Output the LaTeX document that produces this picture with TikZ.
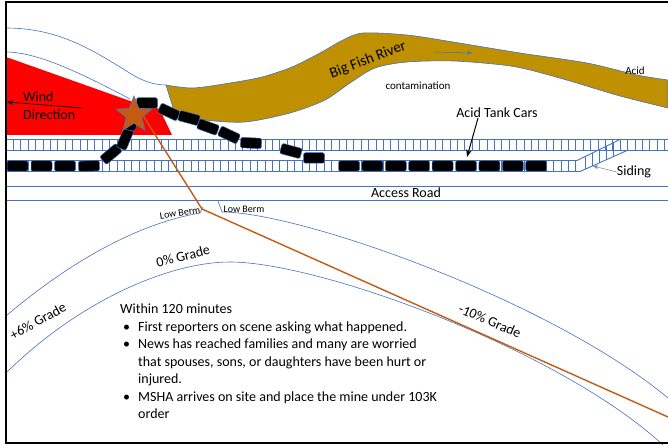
\documentclass[tikz,border=0pt]{standalone}
\usepackage{fontspec}
\setmainfont{Carlito}
\usetikzlibrary{arrows.meta,shapes.geometric}
\definecolor{trackblue}{HTML}{4472C4}
\definecolor{rivergold}{HTML}{BF9000}
\definecolor{spillorange}{HTML}{C55A11}
\tikzset{
  >=Stealth,
  every node/.style={font=\fontsize{14}{17.5}\selectfont, inner sep=0pt},
  rail/.style={draw=trackblue, line width=0.9pt},
  bank/.style={draw=trackblue, line width=0.6pt},
  tankcar/.style={draw=trackblue, fill=black, line width=0.5pt, rounded corners=2pt,
    minimum width=21pt, minimum height=10.5pt, inner sep=0pt},
  smalltext/.style={font=\fontsize{11}{13}\selectfont},
  bermtext/.style={font=\fontsize{10}{12}\selectfont},
}
\newcommand{\bul}{\makebox[18pt][l]{\hspace{3pt}\textbullet}}
\newcommand{\ind}{\hspace*{18pt}}

\begin{document}
\begin{tikzpicture}[x=1pt,y=-1pt]
  \useasboundingbox (0,0) rectangle (668,446);

  % banks north of the tracks
  \draw[bank] (6,28) .. controls (60,28) and (95,52) .. (125,70)
    .. controls (140,80) and (152,85) .. (166,85);
  \draw[bank] (6,52) .. controls (40,52) and (90,78) .. (130,99);

  % wind zone
  \fill[red] (6,57) -- (133,102) -- (152,104) -- (160,110) -- (172,135) -- (6,135) -- cycle;
  \coordinate (windtail) at (82,108);
  \coordinate (windhead) at (7,102);
  \draw[->, line width=0.7pt] (windtail) -- (windhead);
  \node[anchor=west, align=left] (wind) at (23,105.5) {Wind\\Direction};

  % river
  \filldraw[fill=rivergold, draw=trackblue, line width=0.6pt]
    plot[smooth] coordinates {(166,85) (193,88) (230,83) (262,77) (292,67) (320,53)
      (343,40) (363,33) (407,35) (453,42) (520,53) (587,63) (637,75) (668,80)}
    -- plot[smooth] coordinates {(668,108) (620,96) (570,81) (530,70) (503,65)
      (453,61) (407,62) (375,68) (350,83) (325,100) (290,113) (245,122) (205,120) (175,114)}
    -- cycle;
  \coordinate (flowa) at (433,52);
  \coordinate (flowb) at (472,53);
  \draw[->, draw=trackblue, line width=0.5pt] (flowa) -- (flowb);
  \node[rotate=21, font=\fontsize{15}{18}\selectfont] (river) at (368,60) {Big Fish River};
  \node[smalltext] (contam) at (418,86) {contamination};
  \node[smalltext] (acid) at (635,71) {Acid};

  % main line and siding
  \draw[rail] (6,139.5) -- (668,139.5);
  \draw[rail] (6,150.5) -- (668,150.5);
  \foreach \x in {6,13.4,...,668}
    \draw[rail] (\x,139.5) -- (\x,150.5);
  \draw[rail] (6,160.5) -- (577,160.5) -- (620,139.5);
  \draw[rail] (6,171.5) -- (580,171.5) -- (627,150.5);
  \foreach \x in {6,13.4,...,577}
    \draw[rail] (\x,160.5) -- (\x,171.5);
  \foreach \x in {585,592,...,619}
    \draw[rail] (\x,{171.5-0.447*(\x-580)}) -- (\x,{160.5-0.488*(\x-577)});

  % access road
  \draw[rail] (6,186) -- (668,186);
  \draw[rail] (6,200) -- (668,200);
  \node (road) at (406,193) {Access Road};

  % tank cars
  \foreach \i in {0,...,8}
    \node[tankcar] (tank\i) at (349+\i*23.4,166) {};
  \node[tankcar] (wreck1) at (17.5,166) {};
  \node[tankcar] (wreck2) at (41.5,166) {};
  \node[tankcar] (wreck3) at (65,166) {};
  \node[tankcar, rotate=3] (wreck4) at (89,166) {};
  \node[tankcar, rotate=40] (wreck5) at (111,154) {};
  \node[tankcar, rotate=67] (wreck6) at (125,139) {};
  \node[tankcar, rotate=80] (wreck7) at (132,120) {};
  \node[tankcar] (wreck8) at (147,103) {};
  \node[tankcar, rotate=-25] (wreck9) at (169,112) {};
  \node[tankcar, rotate=-15] (wreck10) at (189,118) {};
  \node[tankcar, rotate=-20] (wreck11) at (208,127) {};
  \node[tankcar, rotate=-25] (wreck12) at (229,135) {};
  \node[tankcar, rotate=-3] (wreck13) at (251,143) {};
  \node[tankcar, rotate=-15] (wreck14) at (291,151) {};
  \node[tankcar] (wreck15) at (314,158) {};

  \node (tankcars) at (497,113) {Acid Tank Cars};
  \coordinate (tankhead) at (467,157);
  \draw[->, line width=1pt] ([xshift=-19pt]tankcars.south) -- (tankhead);
  \node (siding) at (634,172) {Siding};
  \coordinate (sidinghead) at (593,166);
  \draw[->, draw=gray, line width=0.5pt] (siding.west) -- (sidinghead);

  % grade
  \draw[bank] (6,316) .. controls (60,270) and (130,225) .. (200,213) -- (203,207);
  \draw[bank] (218,201) -- (222,212) .. controls (300,212) and (550,300) .. (668,398);
  \draw[bank] (6,373) .. controls (80,300) and (170,262) .. (230,262)
    .. controls (320,262) and (560,350) .. (663,445);
  \node[bermtext, rotate=9] (bermleft) at (180,213) {Low Berm};
  \node[bermtext] (bermright) at (244,209) {Low Berm};
  \node[rotate=14] (flat) at (183,256) {0\% Grade};
  \node[rotate=29] (uphill) at (38,321) {+6\% Grade};
  \node[rotate=-23] (downhill) at (490,321) {-10\% Grade};

  % spark and its path
  \coordinate (spark) at (137,106);
  \coordinate (kink) at (202,209);
  \coordinate (farend) at (668,417);
  \draw[spillorange, line width=1.4pt] (spark) -- (kink) -- (farend);
  \node[star, star points=5, star point ratio=2.3, minimum size=38pt,
    fill=spillorange, draw=trackblue, line width=0.6pt] (spill) at (134,115) {};

  \node[anchor=north west, align=left] (timeline) at (120,304) {Within 120 minutes\\
    \bul First reporters on scene asking what happened.\\
    \bul News has reached families and many are worried\\
    \ind that spouses, sons, or daughters have been hurt or\\
    \ind injured.\\
    \bul MSHA arrives on site and place the mine under 103K\\
    \ind order};

  % frame
  \draw[line width=2.5pt] (668,2) -- (6,2) -- (6,443) -- (668,443);
\end{tikzpicture}
\end{document}
